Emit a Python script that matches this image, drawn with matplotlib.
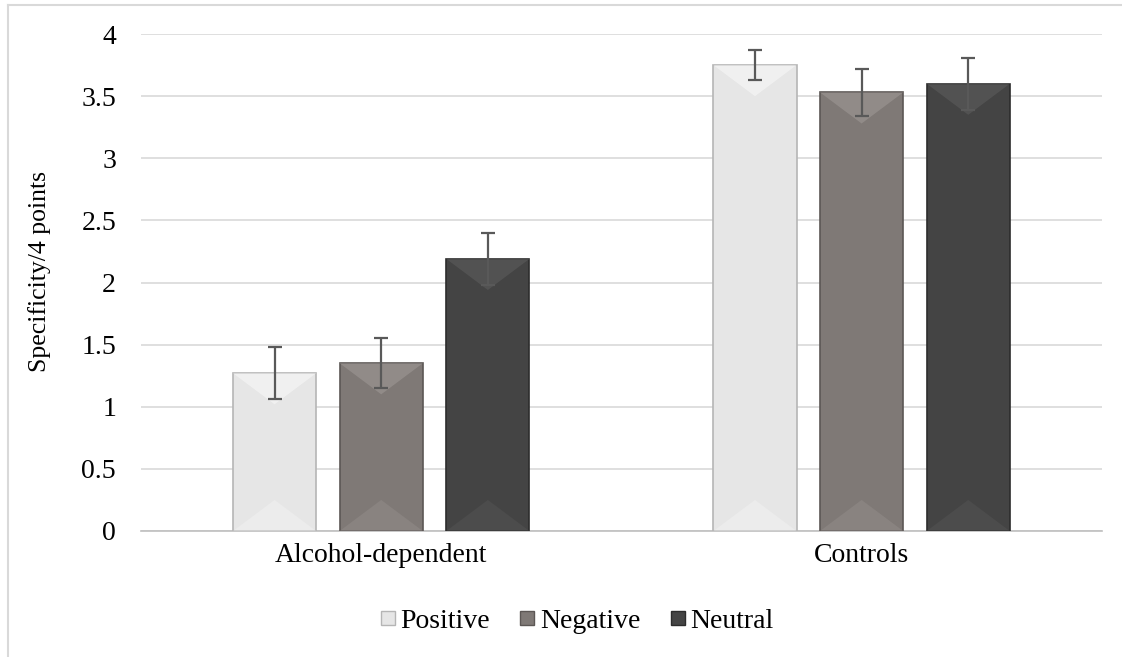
import numpy as np
import matplotlib
matplotlib.use("Agg")
import matplotlib.pyplot as plt
from matplotlib.lines import Line2D

groups = ["Alcohol-dependent", "Controls"]
conditions = ["Positive", "Negative", "Neutral"]
means = {
    "Positive": [1.27, 3.75],
    "Negative": [1.35, 3.53],
    "Neutral": [2.19, 3.60],
}
errors = {
    "Positive": [0.21, 0.12],
    "Negative": [0.20, 0.19],
    "Neutral": [0.21, 0.21],
}
yticks = [0, 0.5, 1, 1.5, 2, 2.5, 3, 3.5, 4]
ytick_labels = ["0", "0.5", "1", "1.5", "2", "2.5", "3", "3.5", "4"]

face = {"Positive": "#e6e6e6", "Negative": "#7f7976", "Neutral": "#444444"}
edge = {"Positive": "#b5b5b5", "Negative": "#5c5755", "Neutral": "#2c2c2c"}
light = {"Positive": "#fafafa", "Negative": "#a19b98", "Neutral": "#5f5f5f"}

plt.rcParams["font.family"] = ["Liberation Serif", "DejaVu Serif"]

fig = plt.figure(figsize=(11.22, 6.57), dpi=100)
ax = fig.add_axes([0.1257, 0.1918, 0.8563, 0.7564])

x = np.arange(len(groups))
width = 0.173
offsets = [-0.222, 0, 0.222]

for cond, off in zip(conditions, offsets):
    bars = ax.bar(x + off, means[cond], width, color=face[cond],
                  edgecolor=edge[cond], linewidth=1.2, zorder=3)
    # bevel look: lighter wedge at the top, subtle one at the bottom
    for b in bars:
        x0, w, h = b.get_x(), b.get_width(), b.get_height()
        d = 0.25
        ax.fill([x0, x0 + w, x0 + w * 0.5], [h, h, h - d],
                color=light[cond], alpha=0.55, zorder=3.5, linewidth=0)
        ax.fill([x0, x0 + w, x0 + w * 0.5], [0, 0, d],
                color=light[cond], alpha=0.3, zorder=3.5, linewidth=0)
    ax.errorbar(x + off, means[cond], yerr=errors[cond], fmt="none",
                ecolor="#595959", elinewidth=1.6, capsize=5, capthick=1.6,
                zorder=4)

ax.set_xlim(-0.5, 1.5)
ax.set_ylim(0, 4)
ax.set_yticks(yticks)
ax.set_yticklabels(ytick_labels)
ax.set_xticks(x)
ax.set_xticklabels(groups)
ax.tick_params(axis="both", length=0, labelsize=20, colors="black")
ax.tick_params(axis="y", pad=18)
ax.tick_params(axis="x", pad=9)
ax.yaxis.grid(True, color="#d9d9d9", linewidth=1.2, zorder=0)
ax.set_axisbelow(True)
for s in ["top", "right", "left"]:
    ax.spines[s].set_visible(False)
ax.spines["bottom"].set_color("#bfbfbf")
ax.spines["bottom"].set_linewidth(1.2)
ax.set_ylabel("Specificity/4 points", fontsize=18.5)
ax.yaxis.set_label_coords(-0.094, 0.523)

handles = [Line2D([0], [0], marker="s", linestyle="none", markersize=10,
                  markerfacecolor=face[c], markeredgecolor=edge[c])
           for c in conditions]
fig.legend(handles, conditions, loc="center", bbox_to_anchor=(0.512, 0.055),
           ncol=3, frameon=False, fontsize=20, handletextpad=0.0,
           columnspacing=0.9, handlelength=0.9)

# chart frame (left and top edges visible)
fig.add_artist(Line2D([0.0067, 0.0067], [0, 0.992], transform=fig.transFigure,
                      color="#d9d9d9", linewidth=1.5))
fig.add_artist(Line2D([0.0067, 1.0], [0.992, 0.992], transform=fig.transFigure,
                      color="#d9d9d9", linewidth=1.5))

fig.savefig("out.png", dpi=100)
